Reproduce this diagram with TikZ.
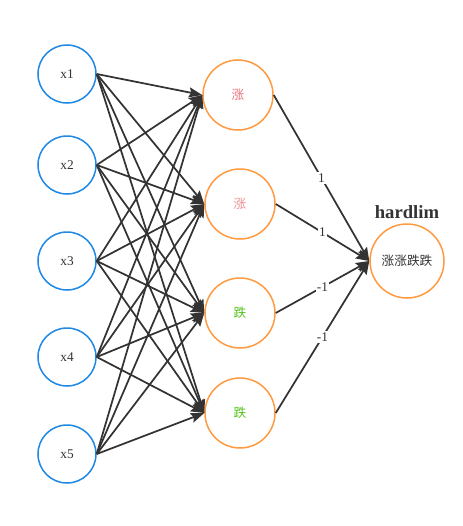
\documentclass[tikz,border=0pt]{standalone}
\usepackage{fontspec}
\newfontfamily\cjk{Noto Sans CJK SC}
\setmainfont{Liberation Serif}
\usetikzlibrary{arrows.meta}
\definecolor{inblue}{HTML}{1E88E5}
\definecolor{hidorange}{HTML}{FF9A40}
\definecolor{edgegray}{HTML}{333333}
\definecolor{upred}{HTML}{E8737A}
\definecolor{downgreen}{HTML}{52C41A}
\begin{document}
\begin{tikzpicture}[x=0.75pt,y=-0.75pt,
  innode/.style={circle,draw=inblue,line width=1.5pt*0.75,minimum size=58*0.75pt,inner sep=0pt,font=\fontsize{10}{12}\selectfont,text=edgegray},
  hidnode/.style={circle,draw=hidorange,line width=1.5pt*0.75,minimum size=70*0.75pt,inner sep=0pt,font=\cjk\fontsize{9.5}{12}\selectfont},
  outnode/.style={circle,draw=hidorange,line width=1.5pt*0.75,minimum size=74*0.75pt,inner sep=0pt,font=\cjk\fontsize{9.5}{12}\selectfont,text=edgegray},
  conn/.style={draw=edgegray,line width=1.3pt,-{Stealth[length=10pt,width=7.5pt,inset=1.5pt]}},
  wlabel/.style={fill=white,inner sep=1pt,font=\fontsize{10}{12}\selectfont,text=edgegray}]
\useasboundingbox (0,0) rectangle (463,526);
\node[innode] (x1) at (67,74) {x1};
\node[innode] (x2) at (67,165) {x2};
\node[innode] (x3) at (67,261) {x3};
\node[innode] (x4) at (67,357) {x4};
\node[innode] (x5) at (67,454) {x5};
\node[hidnode,text=upred] (h1) at (238,95) {涨};
\node[hidnode,text=upred!80] (h2) at (240,204) {涨};
\node[hidnode,text=downgreen] (h3) at (240,313) {跌};
\node[hidnode,text=downgreen] (h4) at (240,413) {跌};
\node[outnode] (o) at (407,261) {涨涨跌跌};
\node[font=\bfseries\fontsize{14}{16}\selectfont,text=edgegray] (hl) at (407,212) {hardlim};
\foreach \i in {x1,x2,x3,x4,x5}{
  \foreach \j in {h1,h2,h3,h4}{
    \draw[conn] (\i.east) -- (\j.west);
  }
}
\draw[conn] (h1.east) -- node[wlabel]{1} (o.west);
\draw[conn] (h2.east) -- node[wlabel]{1} (o.west);
\draw[conn] (h3.east) -- node[wlabel]{-1} (o.west);
\draw[conn] (h4.east) -- node[wlabel]{-1} (o.west);
\end{tikzpicture}
\end{document}
